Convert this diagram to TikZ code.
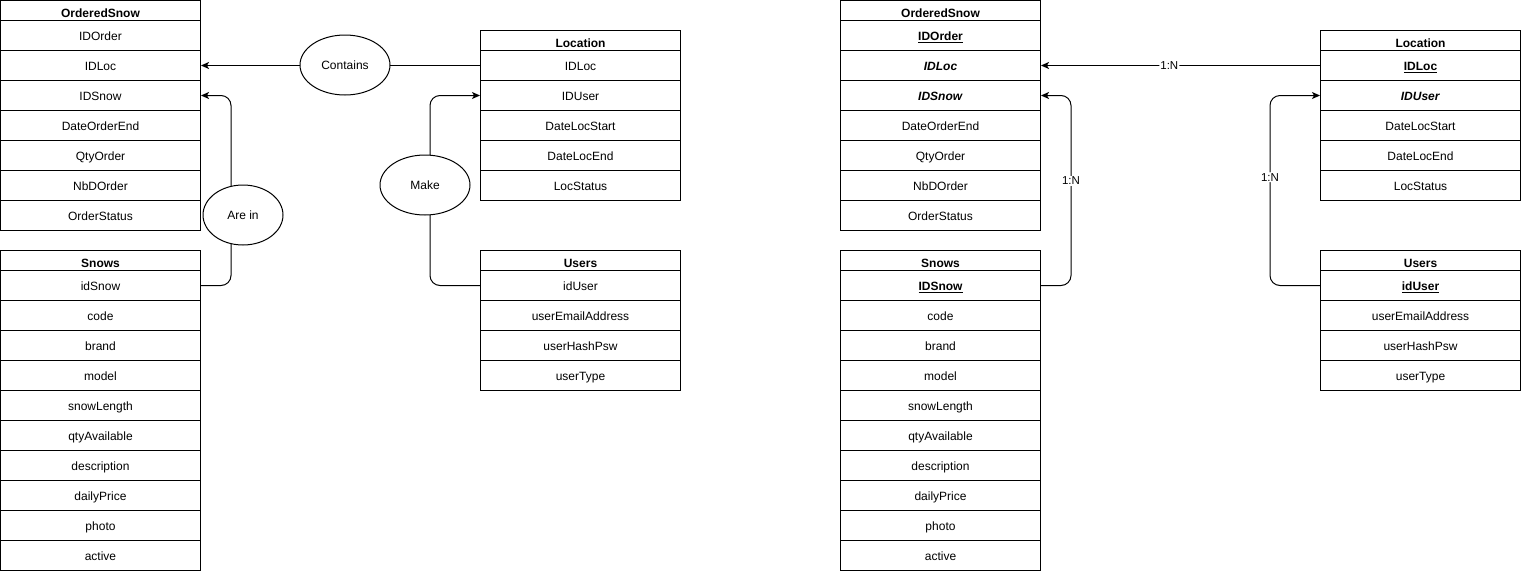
\documentclass[tikz,border=0pt]{standalone}
\usepackage{fontspec}
\setmainfont{Liberation Sans}
\usetikzlibrary{shapes.geometric,arrows.meta}
\tikzset{
  cell/.style={draw, line width=1pt, minimum width=200pt, minimum height=30pt, inner sep=0pt, anchor=north west, font=\fontsize{12pt}{14pt}\selectfont, fill=white, text height=10.6pt, text depth=0pt},
  head/.style={cell, minimum height=20pt, font=\fontsize{12pt}{14pt}\selectfont\bfseries, text height=14pt, text depth=0pt},
  rel/.style={draw, line width=1pt, ellipse, fill=white, inner sep=0pt, font=\fontsize{12pt}{14pt}\selectfont},
  conn/.style={draw, line width=1pt, rounded corners=10pt},
  arr/.style={conn, -{Stealth[length=8pt,width=7pt,inset=2pt]}},
  lbl/.style={fill=white, inner sep=1pt, font=\fontsize{11.5pt}{13pt}\selectfont},
}
\newcommand{\pk}[1]{\underline{\textbf{#1}}}
\newcommand{\fk}[1]{\textbf{\textit{#1}}}
\begin{document}
\begin{tikzpicture}[x=1pt,y=-1pt]
\useasboundingbox (0,0) rectangle (1521,571);
% ---------- LEFT DIAGRAM ----------
\node[head] (osH) at (0,0) {OrderedSnow};
\foreach \t [count=\i] in {IDOrder,IDLoc,IDSnow,DateOrderEnd,QtyOrder,NbDOrder,OrderStatus}
  \node[cell] (os\i) at (0,{20+30*(\i-1)}) {\t};
\node[head] (snH) at (0,250) {Snows};
\foreach \t [count=\i] in {idSnow,code,brand,model,snowLength,qtyAvailable,description,dailyPrice,photo,active}
  \node[cell] (sn\i) at (0,{270+30*(\i-1)}) {\t};
\node[head] (locH) at (480,30) {Location};
\foreach \t [count=\i] in {IDLoc,IDUser,DateLocStart,DateLocEnd,LocStatus}
  \node[cell] (loc\i) at (480,{50+30*(\i-1)}) {\t};
\node[head] (usH) at (480,250) {Users};
\foreach \t [count=\i] in {idUser,userEmailAddress,userHashPsw,userType}
  \node[cell] (us\i) at (480,{270+30*(\i-1)}) {\t};
% connectors
\draw[arr] (loc1.west) -- (os2.east);
\draw[arr] (sn1.east) -- ++(30,0) |- (os3.east);
\draw[arr] (us1.west) -- ++(-50,0) |- (loc2.west);
% relationship ellipses
\node[rel, minimum width=90pt, minimum height=60pt] (contains) at (345,65) {Contains};
\node[rel, minimum width=80pt, minimum height=60pt] (arein) at (243,215) {Are in};
\node[rel, minimum width=90pt, minimum height=60pt] (make) at (425,185) {Make};
% ---------- RIGHT DIAGRAM ----------
\node[head] (rosH) at (840,0) {OrderedSnow};
\foreach \t [count=\i] in {\pk{IDOrder},\fk{IDLoc},\fk{IDSnow},DateOrderEnd,QtyOrder,NbDOrder,OrderStatus}
  \node[cell] (ros\i) at (840,{20+30*(\i-1)}) {\t};
\node[head] (rsnH) at (840,250) {Snows};
\foreach \t [count=\i] in {\pk{IDSnow},code,brand,model,snowLength,qtyAvailable,description,dailyPrice,photo,active}
  \node[cell] (rsn\i) at (840,{270+30*(\i-1)}) {\t};
\node[head] (rlocH) at (1320,30) {Location};
\foreach \t [count=\i] in {\pk{IDLoc},\fk{IDUser},DateLocStart,DateLocEnd,LocStatus}
  \node[cell] (rloc\i) at (1320,{50+30*(\i-1)}) {\t};
\node[head] (rusH) at (1320,250) {Users};
\foreach \t [count=\i] in {\pk{idUser},userEmailAddress,userHashPsw,userType}
  \node[cell] (rus\i) at (1320,{270+30*(\i-1)}) {\t};
% connectors
\draw[arr] (rloc1.west) -- node[lbl, pos=0.54] {1:N} (ros2.east);
\draw[arr] (rsn1.east) -- ++(30,0) -- node[lbl, pos=0.55] {1:N} ++(0,-190) -- (ros3.east);
\draw[arr] (rus1.west) -- ++(-50,0) -- node[lbl, pos=0.57] {1:N} ++(0,-190) -- (rloc2.west);
\end{tikzpicture}
\end{document}
